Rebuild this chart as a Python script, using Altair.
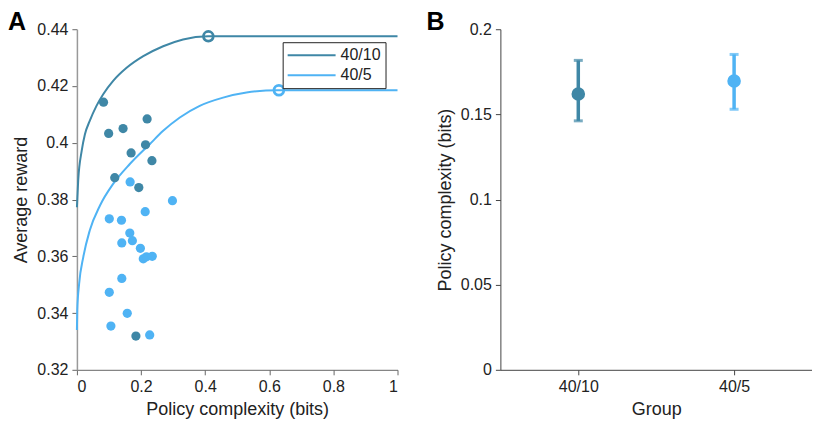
import altair as alt
import pandas as pd

# ---------------- data ----------------
groups = ["40/10", "40/5"]
colors = ["#3f87a6", "#4fb3f4"]

# rate-distortion curves
curve_1010_x = [0, 0.004, 0.015, 0.025, 0.040, 0.061, 0.082, 0.113, 0.155, 0.207, 0.269, 0.331, 0.409, 1.0]
curve_1010_y = [0.3773, 0.3867, 0.3972, 0.4030, 0.4077, 0.4130, 0.4171, 0.4218, 0.4264, 0.4305, 0.4340, 0.4364, 0.4375, 0.4375]
curve_405_x = [0, 0.001, 0.007, 0.020, 0.040, 0.072, 0.113, 0.165, 0.227, 0.269, 0.321, 0.383, 0.456, 0.529, 0.627, 1.0]
curve_405_y = [0.334, 0.341, 0.3504, 0.3598, 0.3691, 0.3779, 0.3855, 0.3925, 0.3995, 0.4042, 0.4089, 0.4130, 0.4159, 0.4177, 0.4185, 0.4185]

# end points of curves (open circles)
end_x = [0.41, 0.63]
end_y = [0.4375, 0.4185]

# participants
pts_1010_x = [0.083, 0.099, 0.144, 0.219, 0.214, 0.169, 0.234, 0.118, 0.193, 0.184]
pts_1010_y = [0.4143, 0.4033, 0.4050, 0.4084, 0.3993, 0.3964, 0.3937, 0.3877, 0.3842, 0.3319]
pts_405_x = [0.166, 0.298, 0.213, 0.101, 0.139, 0.165, 0.173, 0.140, 0.198, 0.207, 0.217, 0.235, 0.140, 0.101, 0.157, 0.106, 0.227]
pts_405_y = [0.3862, 0.3796, 0.3757, 0.3732, 0.3727, 0.3682, 0.3655, 0.3647, 0.3628, 0.3591, 0.3598, 0.3600, 0.3522, 0.3473, 0.3399, 0.3354, 0.3323]

# panel B: mean and error bars
b_mean = [0.162, 0.1696]
b_lo = [0.1462, 0.1530]
b_hi = [0.1817, 0.1852]

# ---------------- tables ----------------
curves = pd.DataFrame({
    "x": curve_1010_x + curve_405_x,
    "y": curve_1010_y + curve_405_y,
    "group": [groups[0]] * len(curve_1010_x) + [groups[1]] * len(curve_405_x),
    "order": list(range(len(curve_1010_x))) + list(range(len(curve_405_x))),
})
ends = pd.DataFrame({"x": end_x, "y": end_y, "group": groups})
pts = pd.DataFrame({
    "x": pts_1010_x + pts_405_x,
    "y": pts_1010_y + pts_405_y,
    "group": [groups[0]] * len(pts_1010_x) + [groups[1]] * len(pts_405_x),
})
bdf = pd.DataFrame({"group": groups, "mean": b_mean, "lo": b_lo, "hi": b_hi})

FONT = "Liberation Sans"
color_scale = alt.Scale(domain=groups, range=colors)

W_A, W_B, H = 321, 312, 341

xA = alt.X("x:Q", scale=alt.Scale(domain=[0, 1], nice=False),
           axis=alt.Axis(title="Policy complexity (bits)", values=[0, 0.2, 0.4, 0.6, 0.8, 1],
                         format="~g", grid=False, domainColor="#666666", tickColor="#666666"))
yA = alt.Y("y:Q", scale=alt.Scale(domain=[0.32, 0.44], nice=False, zero=False),
           axis=alt.Axis(title="Average reward", values=[0.32, 0.34, 0.36, 0.38, 0.40, 0.42, 0.44],
                         format="~g", grid=False, domainColor="#999999", domainWidth=1.5,
                         tickColor="#666666"))

lines = alt.Chart(curves).mark_line(strokeWidth=2, interpolate="monotone").encode(
    x=xA, y=yA, order="order:Q",
    color=alt.Color("group:N", scale=color_scale, sort=groups,
                    legend=alt.Legend(title=None, orient="none", legendX=206, legendY=13,
                                      direction="vertical", symbolType="stroke",
                                      symbolSize=2304, symbolStrokeWidth=2, clipHeight=18,
                                      labelFontSize=16, labelFont=FONT, labelColor="#222222",
                                      strokeColor="#222222", fillColor="white",
                                      padding=4, labelOffset=4, rowPadding=2)),
)
scatter = alt.Chart(pts).mark_circle(size=85, opacity=1).encode(
    x="x:Q", y="y:Q", color=alt.Color("group:N", scale=color_scale, legend=None))
endpts = alt.Chart(ends).mark_point(size=95, filled=False, strokeWidth=2.8, opacity=1).encode(
    x="x:Q", y="y:Q", color=alt.Color("group:N", scale=color_scale, legend=None))
labA = alt.Chart(pd.DataFrame({"t": ["A"]})).mark_text(
    fontSize=25, fontWeight="bold", font=FONT, align="left", baseline="top", color="black"
).encode(text="t:N", x=alt.value(-69), y=alt.value(-19))

panelA = alt.layer(lines, scatter, endpts, labA).properties(width=W_A, height=H)

xB = alt.X("group:N", sort=groups, scale=alt.Scale(type="point", domain=groups, padding=0.5),
           axis=alt.Axis(title="Group", labelAngle=0, domainColor="#444444", tickColor="#444444"))
yBaxis = alt.Axis(title="Policy complexity (bits)", values=[0, 0.05, 0.1, 0.15, 0.2], format="~g",
                  grid=False, domainColor="#444444", tickColor="#444444")
yB = alt.Y("mean:Q", scale=alt.Scale(domain=[0, 0.2], nice=False), axis=yBaxis)

colB = alt.Color("group:N", scale=color_scale, legend=None)
base = alt.Chart(bdf)
err = base.mark_rule(strokeWidth=3.5).encode(x=xB, y=alt.Y("lo:Q", scale=alt.Scale(domain=[0, 0.2], nice=False), axis=yBaxis), y2="hi:Q", color=colB)
capLo = base.mark_tick(size=9, thickness=3).encode(x=xB, y="lo:Q", color=colB)
capHi = base.mark_tick(size=9, thickness=3).encode(x=xB, y="hi:Q", color=colB)
dots = base.mark_circle(size=185, opacity=1).encode(x=xB, y=yB, color=colB)
labB = alt.Chart(pd.DataFrame({"t": ["B"]})).mark_text(
    fontSize=25, fontWeight="bold", font=FONT, align="left", baseline="top", color="black"
).encode(text="t:N", x=alt.value(-74), y=alt.value(-19))

panelB = alt.layer(err, capLo, capHi, dots, labB).properties(width=W_B, height=H)

chart = alt.hconcat(panelA, panelB, spacing=25).properties(
    padding={"left": 0, "top": 2, "right": 0, "bottom": 0}
).configure_view(stroke=None).configure_axis(
    labelFont=FONT, titleFont=FONT, labelFontSize=16, titleFontSize=18,
    labelColor="#222222", titleColor="#222222", titleFontWeight="normal",
    tickSize=5, labelPadding=4, titlePadding=6
).resolve_scale(color="independent")

chart.save("out.html", embed_options={"renderer": "svg", "actions": False})
